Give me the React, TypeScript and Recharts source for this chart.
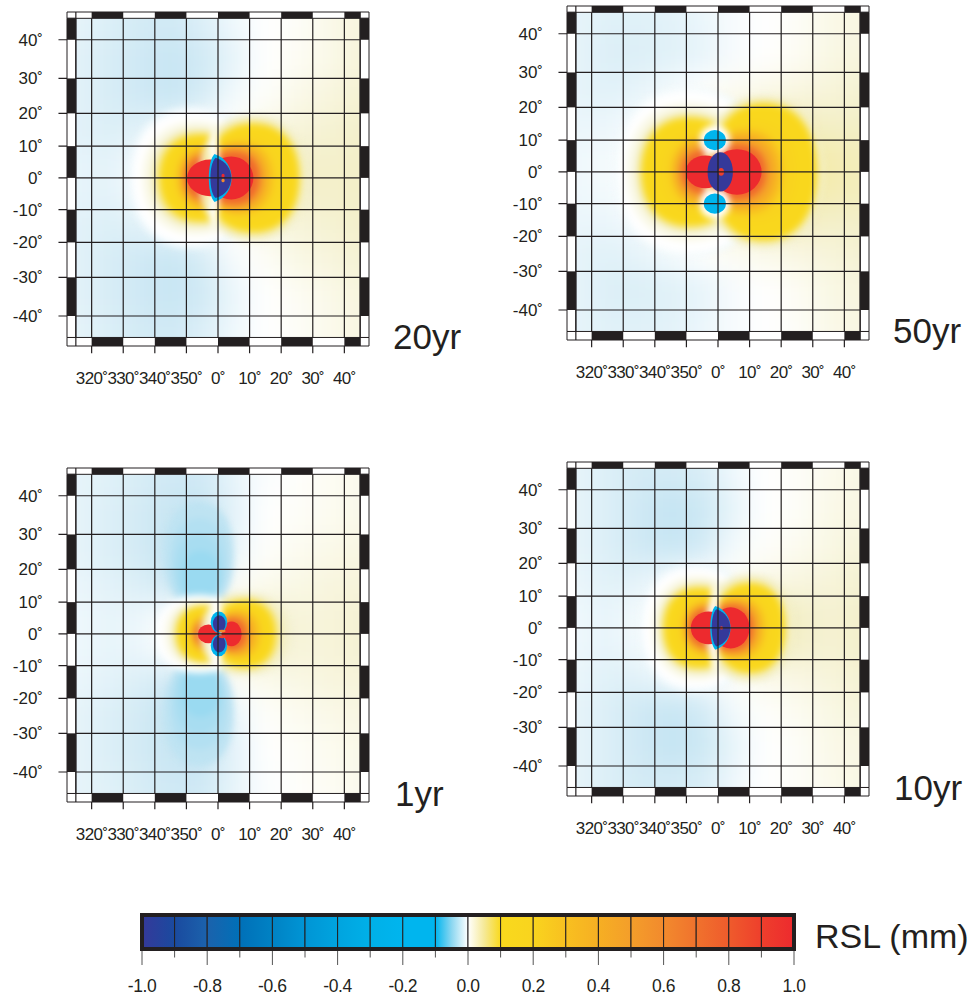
import { ScatterChart, Scatter, XAxis, YAxis, ReferenceArea, ReferenceLine } from 'recharts';

// value -> colour ramp
const COLOR_STOPS: [number, string][] = [
  [-1, '#35399a'], [-0.9, '#1a4a9f'], [-0.8, '#1b62ac'], [-0.7, '#0070b8'], [-0.6, '#0082c4'],
  [-0.5, '#0095d5'], [-0.4, '#00a4df'], [-0.3, '#00b0e8'], [-0.2, '#00b5ee'], [-0.1, '#00b5ee'],
  [-0.03, '#c4e4f2'], [0, '#ffffff'], [0.03, '#f3efc8'], [0.1, '#f9d91d'], [0.2, '#f9d41e'],
  [0.3, '#f8c020'], [0.4, '#f6af23'], [0.5, '#f49e2a'], [0.6, '#f28a2d'], [0.7, '#f0722d'],
  [0.8, '#ef5b2c'], [0.9, '#ee3f2c'], [1, '#ed2a2e'],
];

const BAR_EDGES = [-1, -0.9, -0.8, -0.7, -0.6, -0.5, -0.4, -0.3, -0.2, -0.1, 0, 0.1, 0.2, 0.3, 0.4, 0.5, 0.6, 0.7, 0.8, 0.9, 1];
const BAR_TICKS = [-1, -0.8, -0.6, -0.4, -0.2, 0, 0.2, 0.4, 0.6, 0.8, 1];

const LON_TICKS = [-40, -30, -20, -10, 0, 10, 20, 30, 40];
const LAT_TICKS = [40, 30, 20, 10, 0, -10, -20, -30, -40];
const LON_BLACK = [[-40, -30], [-20, -10], [0, 10], [20, 30], [40, 45]];
const LAT_BLACK = [[45, 40], [30, 20], [10, 0], [-10, -20], [-30, -40]];

const CELL_LONS = [-45, -35, -25, -15, -5, 5, 15, 25, 35, 45];
const CELL_LATS = [45, 35, 25, 15, 5, -5, -15, -25, -35, -45];

// background field, rows north to south, columns west to east (mm)
const field20 = [
  [-.012, -.018, -.022, -.024, -.018, -.008, 0, .004, .012, .018],
  [-.014, -.02, -.024, -.028, -.024, -.012, 0, .006, .012, .02],
  [-.014, -.02, -.024, -.028, -.022, -.006, .002, .012, .018, .024],
  [-.014, -.018, -.016, -.008, 0, 0, .014, .02, .024, .028],
  [-.012, -.014, -.006, 0, .03, .05, .05, .03, .028, .03],
  [-.012, -.014, -.006, 0, .03, .05, .05, .03, .028, .03],
  [-.014, -.018, -.016, -.008, 0, 0, .014, .02, .024, .028],
  [-.014, -.02, -.024, -.028, -.022, -.004, .004, .014, .018, .024],
  [-.014, -.02, -.024, -.028, -.024, -.01, 0, .006, .012, .018],
  [-.012, -.018, -.022, -.024, -.018, -.008, 0, .004, .01, .016],
];
const field50 = [
  [-.012, -.016, -.016, -.014, -.01, -.004, 0, .004, .012, .016],
  [-.012, -.018, -.018, -.016, -.012, -.004, 0, .006, .014, .018],
  [-.012, -.016, -.012, -.006, 0, .006, .012, .016, .02, .024],
  [-.01, -.01, -.004, .002, .02, .03, .035, .035, .03, .03],
  [-.008, -.006, 0, .01, .03, .04, .045, .045, .04, .035],
  [-.008, -.006, 0, .01, .03, .04, .045, .045, .04, .035],
  [-.01, -.01, -.004, .002, .02, .03, .035, .035, .03, .03],
  [-.012, -.016, -.012, -.006, 0, .006, .012, .016, .02, .024],
  [-.012, -.018, -.018, -.016, -.012, -.004, 0, .006, .014, .018],
  [-.012, -.016, -.016, -.014, -.01, -.004, 0, .004, .012, .016],
];
const field1 = [
  [-.012, -.016, -.02, -.024, -.024, -.012, -.002, .002, .006, .01],
  [-.012, -.018, -.022, -.028, -.03, -.014, 0, .004, .008, .012],
  [-.012, -.018, -.022, -.03, -.036, -.01, .002, .008, .012, .016],
  [-.01, -.014, -.018, -.024, -.024, .002, .01, .014, .018, .02],
  [-.008, -.012, -.01, 0, .02, .03, .03, .02, .02, .024],
  [-.008, -.012, -.01, 0, .02, .03, .03, .02, .02, .024],
  [-.01, -.014, -.018, -.024, -.024, .002, .01, .014, .018, .02],
  [-.012, -.018, -.022, -.03, -.036, -.01, .002, .008, .012, .016],
  [-.012, -.018, -.022, -.028, -.03, -.014, 0, .004, .008, .012],
  [-.012, -.016, -.02, -.024, -.024, -.012, -.002, .002, .006, .01],
];
const field10 = [
  [-.012, -.018, -.022, -.022, -.02, -.008, 0, .004, .01, .014],
  [-.012, -.018, -.024, -.03, -.026, -.012, 0, .004, .012, .016],
  [-.012, -.018, -.024, -.028, -.024, -.006, .002, .008, .014, .02],
  [-.01, -.016, -.014, -.006, 0, .002, .012, .016, .02, .024],
  [-.008, -.012, -.006, 0, .03, .04, .04, .03, .024, .028],
  [-.008, -.012, -.006, 0, .03, .04, .04, .03, .024, .028],
  [-.01, -.016, -.014, -.006, 0, .002, .012, .016, .02, .024],
  [-.012, -.018, -.024, -.028, -.024, -.006, .002, .008, .014, .02],
  [-.012, -.018, -.024, -.03, -.026, -.012, 0, .004, .012, .016],
  [-.012, -.018, -.022, -.022, -.02, -.008, 0, .004, .01, .014],
];

// contours: lon, lat, half-width and half-height in degrees, value (mm)
const rings20 = [
  [-8, 0, 20.5, 22.5, -.008], [-8, 0, 19, 21, 0], [-7, 0, 17, 18, .012], [-6.5, 0, 15, 16, .03], [-6, 0, 13.7, 14.6, .06], [-5.5, 0, 12.8, 13.6, .1], [-5, 0, 12, 13, .14], [-4, 0, 10.5, 11.5, .2], [-3.5, 0, 9.5, 10, .3], [-3, 0, 8.8, 9, .4], [-3, 0, 8.2, 8.2, .5], [-2.8, 0, 7.6, 7, .75],
  [11, 0, 17, 20, .03], [11, 0, 15.5, 18, .06], [11, 0, 14.5, 17, .1], [10.5, 0, 14, 16, .14], [8.5, 0, 12, 13.5, .2], [7, 0, 10.5, 11.5, .3], [6, 0, 9.6, 10.5, .4], [5.5, 0, 9, 9.6, .5], [5, 0, 8, 8.2, .75],
  [-1.2, 0, 1.6, 16, 0],
];
const spots20 = [[-2.5, 0, 7.3, 5.8, 1], [4.2, 0, 7, 6.8, 1]];
const lens20 = [[0.7, 0, 3.6, 7.6, -.15], [0.9, 0, 3.3, 6.4, -1]];
const dots20 = [[1.6, 0.7, .5, .6, 1], [1.6, -.8, .5, .6, .6]];

const rings50 = [
  [-9, 0, 24, 27, -.006], [-9, 0, 22.5, 25.5, 0], [-9, 0, 20, 22, .012], [-9, 0, 17.5, 19.5, .03], [-9, 0, 16, 18, .06], [-9, 0, 15, 17, .1], [-8, 0, 14, 15.5, .14], [-6, 0, 12, 13, .2], [-5, 0, 10, 11, .3], [-4.5, 0, 9.2, 9.6, .4], [-4.5, 0, 8.5, 8.5, .5], [-4, 0, 7.4, 6.8, .75],
  [14.5, 0, 19, 24, .03], [14.5, 0, 17.5, 22.5, .06], [14.5, 0, 16.5, 21.5, .1], [14, 0, 16, 20, .14], [11, 0, 14, 16, .2], [9, 0, 11.5, 13.5, .3], [8, 0, 10.8, 11.8, .4], [7, 0, 10, 10.5, .5], [6.3, 0, 8.8, 8.6, .75],
  [-1, 10, 4.8, 4.6, 0], [-1, -10, 4.8, 4.6, 0],
];
const spots50 = [[-4, 0, 6.2, 5.2, 1], [6, 0, 7.8, 7.2, 1], [-1, 10, 3.5, 3.2, -.2], [-1, -10, 3.5, 3.2, -.2], [.7, 0, 4, 6.2, -1]];
const lens50: number[][] = [];
const dots50 = [[1, 0, .9, 1.2, .9]];

const rings1 = [
  [-6, 24, 11, 17, -.032], [-6, 22, 9, 14, -.036], [-6, 20, 7.5, 11, -.04], [-5.5, 18, 6, 8, -.045],
  [-6, -24, 11, 17, -.032], [-6, -22, 9, 14, -.036], [-6, -20, 7.5, 11, -.04], [-5.5, -18, 6, 8, -.045],
  [-6, 0, 14.5, 12.5, -.006], [-6, 0, 13.5, 11.5, 0], [-5.5, 0, 11.5, 10.7, .012], [-5, 0, 10, 10, .03], [-4.5, 0, 9.3, 9.3, .06], [-4, 0, 9, 8.8, .1], [-3.5, 0, 8.5, 8.3, .14], [-3, 0, 6.8, 7, .2], [-3, 0, 6, 6, .3], [-3, 0, 5.4, 5.3, .4], [-3, 0, 5, 4.6, .5], [-3, 0, 4.2, 3.7, .75],
  [8.5, 0, 14, 13, .03], [8.5, 0, 11, 11.5, .06], [8.5, 0, 9.5, 10.5, .1], [8.5, 0, 8.8, 9.8, .14], [7, 0, 7.5, 8.5, .2], [6.5, 0, 6.8, 7.5, .3], [5.5, 0, 6, 6.6, .4], [5, 0, 5.5, 6, .5], [4.5, 0, 4.4, 4.8, .75],
  [-.5, 0, 2, 12, 0],
];
const spots1 = [[-3, 0, 3.4, 3, 1], [4.3, 0, 3.2, 3.9, 1], [.3, 3.7, 2.6, 3.4, -.2], [.3, -3.7, 2.6, 3.4, -.2], [.4, 3.2, 2, 2.7, -1], [.4, -3.2, 2, 2.7, -1]];
const lens1: number[][] = [];
const dots1 = [[1.3, .9, 1.1, .45, .6], [1.3, -.9, 1.1, .45, .9]];

const rings10 = [
  [-7, 0, 18, 20.5, -.008], [-7, 0, 16.8, 19, 0], [-6.5, 0, 14.5, 16.5, .012], [-6, 0, 13, 14.8, .03], [-6, 0, 12, 13.5, .06], [-6, 0, 11, 12.5, .1], [-5.5, 0, 10, 11.5, .14], [-4.5, 0, 8.8, 9.8, .2], [-3.5, 0, 7.8, 8.5, .3], [-3, 0, 7.4, 7.7, .4], [-3, 0, 7, 7, .5], [-3, 0, 6.2, 6, .75],
  [10, 0, 14, 17, .03], [10, 0, 12, 15, .06], [10, 0, 11, 14, .1], [9.5, 0, 10.5, 13, .14], [7.5, 0, 9.6, 11, .2], [6, 0, 8.8, 9.8, .3], [5.5, 0, 8, 9, .4], [5, 0, 7.4, 8.2, .5], [4.5, 0, 6.5, 7.2, .75],
  [-1.2, 0, 1.4, 14, 0],
];
const spots10 = [[-3, 0, 5.6, 5.2, 1], [4, 0, 6, 6.5, 1]];
const lens10 = [[.75, 0, 3.2, 6.9, -.15], [.95, 0, 2.95, 5.9, -1]];
const dots10 = [[1.1, 0, .5, .5, .9]];

const PLOT_W = 302;
const PLOT_H = 334;
const AXIS_W = 60;
const AXIS_H = 50;
const PAD_TOP = 10;
const LON_DOMAIN: [number, number] = [-47.8, 47.8];
const Y_DOMAIN: [number, number] = [-53.2, 52.5];
const PX_X = PLOT_W / (LON_DOMAIN[1] - LON_DOMAIN[0]);
const PX_Y = PLOT_H / (Y_DOMAIN[1] - Y_DOMAIN[0]);
const BAR_W = 652;
const INK = '#231f20';
const FONT = '"Liberation Sans", Arial, sans-serif';

// the maps are Mercator, so latitude is plotted as its Mercator ordinate
const merc = (lat: number) => (180 / Math.PI) * Math.log(Math.tan(Math.PI / 4 + (lat * Math.PI) / 360));
const TOP = merc(45);
const BOTTOM = merc(-45);

function valueColor(v: number) {
  for (let i = 1; i < COLOR_STOPS.length; i++) {
    const [v1, c1] = COLOR_STOPS[i];
    const [v0, c0] = COLOR_STOPS[i - 1];
    if (v <= v1) {
      const t = (v - v0) / (v1 - v0);
      const part = (j: number) => {
        const a = parseInt(c0.slice(j, j + 2), 16);
        const b = parseInt(c1.slice(j, j + 2), 16);
        return Math.round(a + (b - a) * t);
      };
      return `rgb(${part(1)},${part(3)},${part(5)})`;
    }
  }
  return COLOR_STOPS[COLOR_STOPS.length - 1][1];
}

const CellShape = (props: any) => {
  const { cx, cy, payload } = props;
  const w = 10 * PX_X + 1;
  const h = ((merc(payload.lat + 5) - merc(payload.lat - 5)) * PX_Y) + 1;
  const extra = 40;
  const x0 = cx - w / 2 - (payload.lon === -45 ? extra : 0);
  const x1 = cx + w / 2 + (payload.lon === 45 ? extra : 0);
  const y0 = cy - h / 2 - (payload.lat === 45 ? extra : 0);
  const y1 = cy + h / 2 + (payload.lat === -45 ? extra : 0);
  return <rect x={x0} y={y0} width={x1 - x0} height={y1 - y0} fill={valueColor(payload.v)} />;
};

const EllipseShape = (props: any) => {
  const { cx, cy, payload } = props;
  return <ellipse cx={cx} cy={cy} rx={payload.rx * PX_X} ry={payload.ry * PX_Y} fill={valueColor(payload.v)} />;
};

// contours of the lobes are a little flatter than an ellipse on top and bottom
const RingShape = (props: any) => {
  const { cx, cy, payload } = props;
  const rx = payload.rx * PX_X;
  const ry = payload.ry * PX_Y;
  const k = 0.62;
  const d = `M${cx - rx},${cy} C${cx - rx},${cy - ry * k} ${cx - rx * k},${cy - ry} ${cx},${cy - ry} C${cx + rx * k},${cy - ry} ${cx + rx},${cy - ry * k} ${cx + rx},${cy} C${cx + rx},${cy + ry * k} ${cx + rx * k},${cy + ry} ${cx},${cy + ry} C${cx - rx * k},${cy + ry} ${cx - rx},${cy + ry * k} ${cx - rx},${cy}Z`;
  return <path d={d} fill={valueColor(payload.v)} />;
};

// pointed lens outline of the central low
const LensShape = (props: any) => {
  const { cx, cy, payload } = props;
  const rx = payload.rx * PX_X;
  const ry = payload.ry * PX_Y;
  const tip = cx - rx * 0.5;
  const d = `M${tip},${cy - ry} C${tip + rx * 2},${cy - ry * 0.7} ${tip + rx * 2},${cy + ry * 0.7} ${tip},${cy + ry} C${tip - rx * 0.67},${cy + ry * 0.7} ${tip - rx * 0.67},${cy - ry * 0.7} ${tip},${cy - ry}Z`;
  return <path d={d} fill={valueColor(payload.v)} />;
};

const BarSegment = (props: any) => {
  const { cx, cy, payload } = props;
  const w = BAR_W / (BAR_EDGES.length - 1);
  return <rect x={cx - w / 2} y={cy - 17} width={w} height={34} fill={`url(#bar-${payload.i})`} stroke={INK} strokeWidth={1} />;
};

const toSpots = (rows: number[][]) =>
  rows.map(([lon, lat, rx, ry, v]) => ({ lon, y: merc(lat), rx, ry, v }));

const toCells = (rows: number[][]) =>
  rows.flatMap((row, i) =>
    row.map((v, j) => ({ lon: CELL_LONS[j], lat: CELL_LATS[i], y: merc(CELL_LATS[i]), v })),
  );

const barRows = BAR_EDGES.slice(0, -1).map((edge, i) => ({ v: (edge + BAR_EDGES[i + 1]) / 2, y: 0.5, i }));

interface MapPanelProps {
  left: number;
  top: number;
  title: string;
  titleX: number;
  titleY: number;
  field: number[][];
  rings: number[][];
  spots: number[][];
  lens: number[][];
  dots: number[][];
}

function MapPanel({ left, top, title, titleX, titleY, field, rings, spots, lens, dots }: MapPanelProps) {
  const lineProps = { stroke: INK, strokeWidth: 1.2, ifOverflow: 'visible' as const, zIndex: 700 };
  const bandProps = { fill: '#fff', stroke: INK, strokeWidth: 1, fillOpacity: 1, ifOverflow: 'visible' as const, zIndex: 710 };
  const blockProps = { fill: INK, stroke: 'none', fillOpacity: 1, ifOverflow: 'visible' as const, zIndex: 720 };
  const [yMin, yMax] = Y_DOMAIN;
  const [xMin, xMax] = LON_DOMAIN;
  return (
    <>
      <div style={{ position: 'absolute', left: left - AXIS_W, top: top - PAD_TOP }}>
        <ScatterChart
          width={AXIS_W + PLOT_W + 8}
          height={PAD_TOP + PLOT_H + AXIS_H}
          margin={{ top: PAD_TOP, right: 8, bottom: 0, left: 0 }}
        >
          <XAxis
            type="number"
            dataKey="lon"
            domain={LON_DOMAIN}
            ticks={LON_TICKS}
            interval={0}
            height={AXIS_H}
            allowDataOverflow
            axisLine={false}
            tickLine={false}
            tickMargin={20}
            tick={{ fontSize: 17, fontFamily: FONT, fill: INK, letterSpacing: -0.6 }}
            tickFormatter={(v: number) => `${v < 0 ? 360 + v : v}˚`}
          />
          <YAxis
            type="number"
            dataKey="y"
            domain={Y_DOMAIN}
            ticks={LAT_TICKS.map(merc)}
            interval={0}
            width={AXIS_W}
            allowDataOverflow
            axisLine={false}
            tickLine={false}
            tickMargin={18}
            tick={{ fontSize: 17, fontFamily: FONT, fill: INK }}
            tickFormatter={(v: number) => `${LAT_TICKS[LAT_TICKS.findIndex((lat) => merc(lat) === v)]}˚`}
          />
          <Scatter data={toCells(field)} shape={CellShape} className="heat-field" isAnimationActive={false} />
          <Scatter data={toSpots(rings)} shape={RingShape} className="heat-soft" isAnimationActive={false} />
          <Scatter data={toSpots(spots)} shape={EllipseShape} className="heat-sharp" isAnimationActive={false} />
          <Scatter data={toSpots(lens)} shape={LensShape} className="heat-sharp" isAnimationActive={false} />
          <Scatter data={toSpots(dots)} shape={EllipseShape} isAnimationActive={false} />

          {LON_TICKS.map((lon) => (
            <ReferenceLine key={`v${lon}`} segment={[{ x: lon, y: TOP }, { x: lon, y: yMin - 2.3 }]} {...lineProps} />
          ))}
          {LAT_TICKS.map((lat) => (
            <ReferenceLine key={`h${lat}`} segment={[{ x: xMin - 2.7, y: merc(lat) }, { x: 45, y: merc(lat) }]} {...lineProps} />
          ))}

          <ReferenceArea x1={xMin} x2={xMax} y1={TOP} y2={yMax} {...bandProps} />
          <ReferenceArea x1={xMin} x2={xMax} y1={yMin} y2={BOTTOM} {...bandProps} />
          <ReferenceArea x1={xMin} x2={-45} y1={BOTTOM} y2={TOP} {...bandProps} />
          <ReferenceArea x1={45} x2={xMax} y1={BOTTOM} y2={TOP} {...bandProps} />
          <ReferenceLine segment={[{ x: -45, y: yMin }, { x: -45, y: yMax }]} {...lineProps} zIndex={715} />
          <ReferenceLine segment={[{ x: 45, y: yMin }, { x: 45, y: yMax }]} {...lineProps} zIndex={715} />

          {LON_BLACK.map(([a, b]) => (
            <ReferenceArea key={`t${a}`} x1={a} x2={b} y1={TOP} y2={yMax} {...blockProps} />
          ))}
          {LON_BLACK.map(([a, b]) => (
            <ReferenceArea key={`b${a}`} x1={a} x2={b} y1={yMin} y2={BOTTOM} {...blockProps} />
          ))}
          {LAT_BLACK.map(([a, b]) => (
            <ReferenceArea key={`l${a}`} x1={xMin} x2={-45} y1={merc(b)} y2={merc(a)} {...blockProps} />
          ))}
          {LAT_BLACK.map(([a, b]) => (
            <ReferenceArea key={`r${a}`} x1={45} x2={xMax} y1={merc(b)} y2={merc(a)} {...blockProps} />
          ))}
        </ScatterChart>
      </div>
      <div
        style={{
          position: 'absolute',
          left: titleX,
          top: titleY,
          fontFamily: FONT,
          fontSize: 35,
          lineHeight: '40px',
          color: INK,
        }}
      >
        {title}
      </div>
    </>
  );
}

function ColorBar() {
  return (
    <div style={{ position: 'absolute', left: 142 - 20, top: 915 - 2 }}>
      <ScatterChart width={BAR_W + 40} height={87} margin={{ top: 2, right: 20, bottom: 0, left: 20 }}>
        <XAxis
          type="number"
          dataKey="v"
          domain={[-1, 1]}
          ticks={BAR_TICKS}
          interval={0}
          height={51}
          axisLine={false}
          tickLine={{ stroke: '#555', strokeWidth: 1 }}
          tickSize={16}
          tickMargin={15}
          tick={{ fontSize: 17.5, fontFamily: FONT, fill: INK, letterSpacing: -0.4 }}
          tickFormatter={(v: number) => v.toFixed(1)}
        />
        <YAxis type="number" dataKey="y" domain={[0, 1]} hide />
        <Scatter data={barRows} shape={BarSegment} isAnimationActive={false} />
        <ReferenceArea x1={-1} x2={1} y1={0} y2={1} fill="none" stroke={INK} strokeWidth={4} zIndex={700} />
        {BAR_EDGES.filter((e) => !BAR_TICKS.includes(e)).map((e) => (
          <ReferenceLine
            key={e}
            segment={[{ x: e, y: 0 }, { x: e, y: -0.25 }]}
            stroke="#555"
            ifOverflow="visible"
          />
        ))}
      </ScatterChart>
    </div>
  );
}

export default function App() {
  return (
    <div style={{ position: 'absolute', left: 0, top: 0, width: 975, height: 1000, background: '#fff', overflow: 'hidden' }}>
      <style>{`
        .heat-field { filter: url(#soft-field); clip-path: url(#map-clip); }
        .heat-soft { filter: url(#soft-ring); clip-path: url(#map-clip); }
        .heat-sharp { filter: url(#soft-spot); clip-path: url(#map-clip); }
      `}</style>
      <svg width={0} height={0} style={{ position: 'absolute' }}>
        <defs>
          <filter id="soft-field" x="-20%" y="-20%" width="140%" height="140%" colorInterpolationFilters="sRGB">
            <feGaussianBlur stdDeviation="14" />
          </filter>
          <filter id="soft-ring" x="-20%" y="-20%" width="140%" height="140%" colorInterpolationFilters="sRGB">
            <feGaussianBlur stdDeviation="3" />
          </filter>
          <filter id="soft-spot" x="-20%" y="-20%" width="140%" height="140%" colorInterpolationFilters="sRGB">
            <feGaussianBlur stdDeviation="0.6" />
          </filter>
          <clipPath id="map-clip" clipPathUnits="userSpaceOnUse">
            <rect x={AXIS_W} y={PAD_TOP} width={PLOT_W} height={PLOT_H} />
          </clipPath>
          {BAR_EDGES.slice(0, -1).map((edge, i) => (
            <linearGradient key={edge} id={`bar-${i}`} x1="0" x2="1" y1="0" y2="0">
              <stop offset="0" stopColor={valueColor(edge)} />
              {edge === -0.1 || edge === 0 ? <stop offset="0.5" stopColor={valueColor(edge + 0.05)} /> : null}
              <stop offset="1" stopColor={valueColor(BAR_EDGES[i + 1])} />
            </linearGradient>
          ))}
        </defs>
      </svg>

      <MapPanel left={67} top={12} title="20yr" titleX={393} titleY={317} field={field20} rings={rings20} spots={spots20} lens={lens20} dots={dots20} />
      <MapPanel left={567} top={6} title="50yr" titleX={893} titleY={311} field={field50} rings={rings50} spots={spots50} lens={lens50} dots={dots50} />
      <MapPanel left={67} top={468} title="1yr" titleX={395} titleY={774} field={field1} rings={rings1} spots={spots1} lens={lens1} dots={dots1} />
      <MapPanel left={567} top={462} title="10yr" titleX={894} titleY={768} field={field10} rings={rings10} spots={spots10} lens={lens10} dots={dots10} />

      <ColorBar />
      <div style={{ position: 'absolute', left: 815, top: 916, fontFamily: FONT, fontSize: 34, lineHeight: '40px', color: INK, whiteSpace: 'nowrap' }}>
        RSL (mm)
      </div>
    </div>
  );
}
